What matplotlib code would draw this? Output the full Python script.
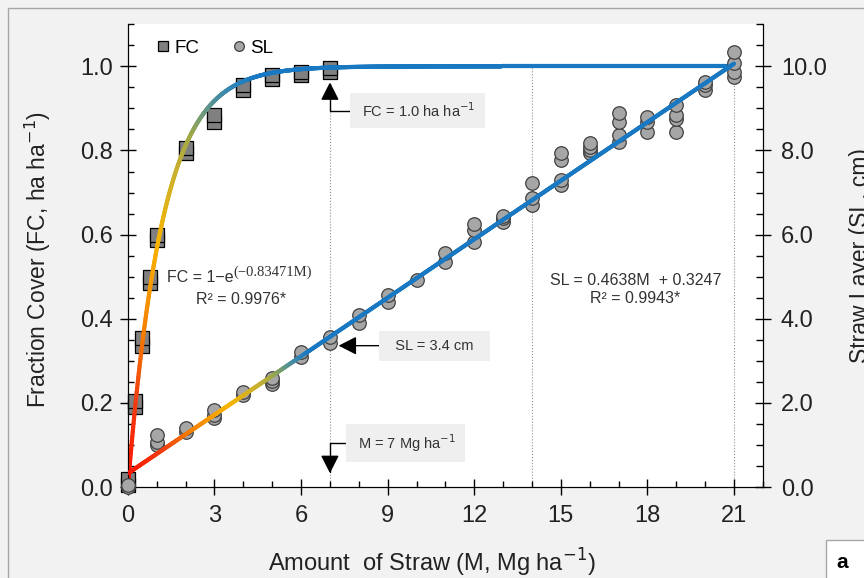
import numpy as np
import matplotlib
matplotlib.use("Agg")
import matplotlib.pyplot as plt
from matplotlib.collections import LineCollection
from matplotlib.colors import LinearSegmentedColormap
from matplotlib.lines import Line2D
from matplotlib.patches import Rectangle
from matplotlib.ticker import MultipleLocator, FormatStrFormatter

plt.rcParams["font.family"] = ["Liberation Sans", "DejaVu Sans"]

# FC observations (fraction cover, left axis)
fc_x = [0, 0, 0.25, 0.25, 0.5, 0.5, 0.75, 0.75, 1, 1, 2, 2, 3, 3, 4, 4, 5, 5, 6, 6, 7, 7]
fc_y = [0.005, 0.018, 0.19, 0.205, 0.335, 0.355, 0.485, 0.50, 0.588, 0.598,
        0.793, 0.805, 0.867, 0.884, 0.943, 0.955, 0.971, 0.979, 0.979, 0.986,
        0.986, 0.997]

# SL observations (straw layer, right axis)
sl_x = [0, 0,
        1, 1, 1, 2, 2, 3, 3, 3, 4, 4, 5, 5, 5, 6, 6, 7, 7, 8, 8, 9, 9, 10,
        11, 11, 12, 12, 12, 13, 13, 13, 14, 14, 14,
        15, 15, 15, 15, 16, 16, 16, 16, 17, 17, 17, 17,
        18, 18, 18, 19, 19, 19, 19, 20, 20, 20, 21, 21, 21, 21]
sl_y = [0.0, 0.05,
        1.0, 1.07, 1.23, 1.31, 1.40, 1.64, 1.71, 1.83, 2.19, 2.26, 2.45, 2.52, 2.60,
        3.10, 3.20, 3.42, 3.56, 3.90, 4.08, 4.39, 4.56, 4.92,
        5.34, 5.56, 5.82, 6.10, 6.25, 6.30, 6.40, 6.45, 6.70, 6.86, 7.22,
        7.17, 7.29, 7.77, 7.93, 7.93, 8.00, 8.08, 8.17, 8.20, 8.36, 8.67, 8.88,
        8.43, 8.67, 8.79, 8.43, 8.76, 8.84, 9.07, 9.43, 9.55, 9.62,
        9.74, 9.86, 10.07, 10.33]

# fitted models
fc_k = 0.83471
sl_a = 0.4638
sl_b = 0.3247

grad = LinearSegmentedColormap.from_list("grad", [
    (0.0, "#ff1000"), (0.2, "#f04010"), (0.35, "#f58000"), (0.55, "#f8b400"),
    (0.72, "#c8b030"), (0.80, "#a0a848"), (0.88, "#5a9490"), (0.95, "#2e84b8"),
    (1.0, "#1878c2")])


def gradient_line(ax, x, y, t, lw=3.0):
    pts = np.column_stack([x, y]).reshape(-1, 1, 2)
    segs = np.concatenate([pts[:-1], pts[1:]], axis=1)
    lc = LineCollection(segs, colors=grad(np.clip(t[:-1], 0, 1)), linewidths=lw,
                        capstyle="round", zorder=4)
    ax.add_collection(lc)


fig = plt.figure(figsize=(8.64, 5.78), dpi=100, facecolor="#f2f2f2")
fig.patches.append(Rectangle((8 / 864, -0.5), 1.5, 0.5 + 1 - 8 / 578, transform=fig.transFigure,
                             fill=False, ec="#a6a6a6", lw=1.0, zorder=0))

ax = fig.add_axes([0.148, 0.1574, 0.735, 0.8006])
ax.set_facecolor("white")
ax.set_xlim(0, 22)
ax.set_ylim(0, 1.1)
ax2 = ax.twinx()
ax2.set_ylim(0, 11)

# reference lines
for xv, y0, y1 in [(7, 0.0, 0.95), (14, 0.0, 1.0), (21, 0.0, 1.0)]:
    ax.plot([xv, xv], [y0, y1], color="#909090", lw=0.8, ls=":", zorder=1)

# markers
ax.scatter(fc_x, fc_y, marker="s", s=95, c="#808080", edgecolors="black",
           linewidths=0.9, zorder=3, clip_on=False)
ax2.scatter(sl_x, sl_y, marker="o", s=95, c="#a6a6a6", edgecolors="#404040",
            linewidths=0.9, zorder=3, clip_on=False)

# FC curve, gradient by arc length
xf = np.linspace(0, 21, 1500)
yf = 1 - np.exp(-fc_k * xf)
arc = np.concatenate([[0], np.cumsum(np.hypot(np.diff(xf) * 28.9, np.diff(yf) * 421))])
gradient_line(ax, xf, yf, arc / 450)

# SL line
xs = np.linspace(0, 21, 800)
ys = sl_a * xs + sl_b
gradient_line(ax2, xs, ys, xs / 6.3)

# equations
t1 = ax.text(1.35, 0.499, "FC = 1\u2212e", fontsize=11.5, ha="left", va="center", color="#333333")
ax.annotate("(\u22120.83471M)", xy=(1.0, 0.8), xycoords=t1, ha="left", va="center",
            fontsize=10.5, family="Liberation Serif", color="#333333")
ax.text(3.91, 0.4466, "R\u00b2 = 0.9976*", fontsize=11.5, ha="center", va="center", color="#333333")
ax.text(17.58, 0.492, "SL = 0.4638M  + 0.3247", fontsize=11.5, ha="center", va="center", color="#333333")
ax.text(17.58, 0.449, "R\u00b2 = 0.9943*", fontsize=11.5, ha="center", va="center", color="#333333")

# callouts
box = dict(boxstyle="square,pad=0.55", fc="#efefef", ec="none")
arrow = dict(arrowstyle="-|>,head_length=0.55,head_width=0.28", color="black", lw=1.0,
             mutation_scale=20, shrinkA=0, shrinkB=0)
ax.annotate(" FC = 1.0 ha ha$^{-1}$ ", xy=(7, 0.962), xytext=(10.03, 0.895),
            ha="center", va="center", fontsize=10.5, color="#333333", bbox=box, zorder=6,
            arrowprops=dict(arrow, connectionstyle="angle,angleA=180,angleB=90,rad=0"))
ax.annotate(" M = 7 Mg ha$^{-1}$ ", xy=(7, 0.033), xytext=(9.62, 0.105),
            ha="center", va="center", fontsize=10.5, color="#333333", bbox=box, zorder=6,
            arrowprops=dict(arrow, connectionstyle="angle,angleA=180,angleB=90,rad=0"))
ax2.annotate("  SL = 3.4 cm  ", xy=(7.3, 3.36), xytext=(10.62, 3.36),
             ha="center", va="center", fontsize=10.5, color="#333333", bbox=box, zorder=6,
             arrowprops=dict(arrow, connectionstyle="arc3"))

# legend
handles = [Line2D([], [], ls="none", marker="s", ms=7, mfc="#808080", mec="black", mew=0.9),
           Line2D([], [], ls="none", marker="o", ms=7, mfc="#a6a6a6", mec="#404040", mew=0.9)]
ax.legend(handles, ["FC", "SL"], loc="upper left", bbox_to_anchor=(0.02, 0.995), ncol=2,
          frameon=False, fontsize=13.5, handletextpad=0.1, columnspacing=1.6,
          handlelength=1.0, borderaxespad=0.3)

# axes styling
ax.spines["top"].set_visible(False)
ax2.spines["top"].set_visible(False)
ax.set_xticks(range(0, 22, 3))
ax.xaxis.set_minor_locator(MultipleLocator(1))
ax.yaxis.set_major_locator(MultipleLocator(0.2))
ax.yaxis.set_minor_locator(MultipleLocator(0.05))
ax.yaxis.set_major_formatter(FormatStrFormatter("%.1f"))
ax2.yaxis.set_major_locator(MultipleLocator(2))
ax2.yaxis.set_minor_locator(MultipleLocator(0.5))
ax2.yaxis.set_major_formatter(FormatStrFormatter("%.1f"))

ax.tick_params(which="major", direction="inout", length=12, width=1, labelsize=17,
               colors="black", labelcolor="#222222", top=False, right=False)
ax.tick_params(which="minor", direction="in", length=4, width=1, top=False, right=False)
ax.tick_params(axis="y", which="major", pad=5)
ax.tick_params(axis="x", which="major", pad=7)
ax2.tick_params(which="major", direction="inout", length=12, width=1, labelsize=17,
                labelcolor="#222222", pad=7)
ax2.tick_params(which="minor", direction="in", length=5, width=1)

ax.set_xlabel("Amount  of Straw (M, Mg ha$^{-1}$)", fontsize=17, color="#222222", va="center")
ax.xaxis.set_label_coords(0.479, -0.164)
ax.set_ylabel("Fraction Cover (FC, ha ha$^{-1}$)", fontsize=16.5, color="#222222", va="center")
ax.yaxis.set_label_coords(-0.142, 0.492)
ax2.set_ylabel("Straw Layer (SL, cm)", fontsize=16.5, color="#222222", va="center")
ax2.yaxis.set_label_coords(1.153, 0.5)

# panel tag
fig.patches.append(Rectangle((826 / 864, -0.1), 0.2, 0.1 + 1 - 540 / 578, transform=fig.transFigure,
                             fc="white", ec="#a6a6a6", lw=1.0))
fig.text(842 / 864, 1 - 562 / 578, "a", fontsize=15, fontweight="bold", ha="center", va="center")

fig.savefig("out.png", dpi=100, facecolor=fig.get_facecolor())
